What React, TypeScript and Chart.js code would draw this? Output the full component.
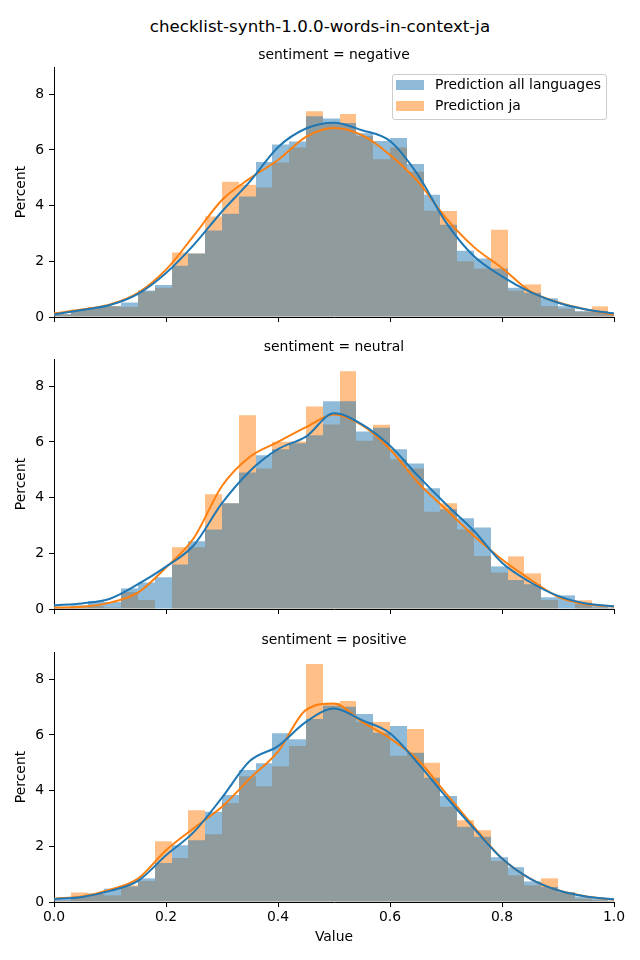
import React, { useEffect, useRef } from "react";
import { Chart, registerables } from "chart.js";

Chart.register(...registerables);

const TITLE = "checklist-synth-1.0.0-words-in-context-ja";
const PANEL_TITLES = ["sentiment = negative", "sentiment = neutral", "sentiment = positive"];
const SERIES_NAMES = ["Prediction all languages", "Prediction ja"];
const X_TITLE = "Value";
const Y_TITLE = "Percent";
const X_TICKS = [0, 0.2, 0.4, 0.6, 0.8, 1.0];
const Y_TICKS = [0, 2, 4, 6, 8];
const Y_MAX = 8.98;

const BIN_CENTERS = [
  0.015, 0.045, 0.075, 0.105, 0.135, 0.165, 0.195, 0.225, 0.255, 0.285,
  0.315, 0.345, 0.375, 0.405, 0.435, 0.465, 0.495, 0.525, 0.555, 0.585,
  0.615, 0.645, 0.675, 0.705, 0.735, 0.765, 0.795, 0.825, 0.855, 0.885,
  0.915, 0.945, 0.975, 1.005,
];

// negative
const NEG_ALL = [
  0.1, 0.25, 0.33, 0.39, 0.52, 0.95, 1.15, 1.84, 2.28, 3.11,
  3.71, 4.33, 5.57, 6.2, 6.3, 7.21, 7.13, 6.97, 6.6, 6.32,
  6.43, 5.5, 4.39, 3.31, 2.38, 2.1, 1.74, 1.05, 0.87, 0.67,
  0.39, 0.21, 0.21, 0.12,
];
const NEG_JA = [
  0.1, 0.27, 0.36, 0.39, 0.36, 0.92, 1.05, 2.32, 2.28, 3.61,
  4.86, 4.75, 4.65, 5.55, 6.09, 7.39, 6.97, 7.29, 6.5, 5.67,
  6.09, 5.22, 3.82, 3.81, 2.0, 1.74, 3.13, 0.95, 1.17, 0.39,
  0.3, 0.19, 0.38, 0.1,
];
// neutral
const NEU_ALL = [
  0.08, 0.13, 0.29, 0.25, 0.74, 0.95, 1.14, 1.6, 2.43, 2.86,
  3.8, 4.9, 5.52, 5.74, 5.95, 6.24, 7.46, 7.46, 6.38, 6.51,
  5.74, 5.23, 4.34, 3.58, 3.26, 2.93, 1.53, 1.04, 0.89, 0.42,
  0.49, 0.2, 0.1, 0.05,
];
const NEU_JA = [
  0.03, 0.05, 0.1, 0.05, 0.61, 0.32, 0.0, 2.22, 2.22, 4.12,
  3.8, 6.96, 5.05, 6.01, 6.02, 7.27, 6.63, 8.54, 6.04, 6.62,
  5.38, 5.05, 3.49, 3.8, 2.86, 1.9, 1.31, 1.89, 1.28, 0.32,
  0.0, 0.31, 0.05, 0.03,
];
// positive
const POS_ALL = [
  0.1, 0.18, 0.3, 0.48, 0.56, 0.85, 1.4, 2.04, 2.22, 3.24,
  3.84, 4.74, 4.98, 6.06, 5.85, 6.57, 7.05, 7.01, 6.75, 6.08,
  6.32, 5.36, 4.46, 3.81, 2.7, 2.34, 1.61, 1.25, 0.74, 0.54,
  0.36, 0.2, 0.12, 0.05,
];
const POS_JA = [
  0.05, 0.34, 0.3, 0.24, 0.6, 0.76, 2.18, 1.58, 3.3, 2.43,
  3.56, 4.52, 4.16, 4.88, 5.6, 8.55, 7.15, 7.22, 6.47, 6.47,
  5.25, 6.21, 5.0, 3.42, 2.94, 2.58, 1.47, 0.96, 0.6, 0.85,
  0.34, 0.12, 0.06, 0.03,
];

const KDE_X = [
  0, 0.05, 0.1, 0.15, 0.2, 0.25, 0.3, 0.35, 0.4, 0.45, 0.5,
  0.55, 0.6, 0.65, 0.7, 0.75, 0.8, 0.85, 0.9, 0.95, 1.0,
];
const NEG_ALL_KDE = [0.09, 0.25, 0.43, 0.83, 1.58, 2.6, 3.79, 4.87, 6.1, 6.77, 6.98, 6.71, 6.32, 5.1, 3.4, 2.18, 1.46, 0.9, 0.51, 0.27, 0.13];
const NEG_JA_KDE = [0.13, 0.27, 0.45, 0.87, 1.7, 2.93, 4.2, 4.98, 5.64, 6.47, 6.79, 6.53, 5.82, 4.86, 3.55, 2.51, 1.76, 0.93, 0.53, 0.27, 0.09];
const NEU_ALL_KDE = [0.13, 0.2, 0.37, 0.89, 1.52, 2.3, 3.8, 4.96, 5.74, 6.19, 7.03, 6.63, 5.86, 4.78, 3.76, 2.8, 1.66, 0.97, 0.47, 0.2, 0.1];
const NEU_JA_KDE = [0.05, 0.08, 0.23, 0.59, 1.49, 2.56, 4.42, 5.47, 6.0, 6.53, 6.99, 6.6, 5.74, 4.54, 3.58, 2.62, 1.78, 1.07, 0.44, 0.17, 0.08];
const POS_ALL_KDE = [0.1, 0.18, 0.4, 0.76, 1.68, 2.52, 3.75, 5.07, 5.6, 6.47, 6.95, 6.53, 6.06, 4.98, 3.78, 2.64, 1.56, 0.84, 0.42, 0.2, 0.1];
const POS_JA_KDE = [0.12, 0.2, 0.44, 0.84, 1.86, 2.66, 3.42, 4.44, 5.4, 6.9, 7.13, 6.47, 5.88, 5.1, 3.9, 2.7, 1.56, 0.84, 0.42, 0.2, 0.08];

const BLUE = "rgb(31,119,180)";
const ORANGE = "rgb(255,127,14)";
const BLUE_A = "rgba(31,119,180,0.5)";
const ORANGE_A = "rgba(255,127,14,0.5)";
const FONT = "'DejaVu Sans', sans-serif";
const FS = 13.9;

const PANELS = [
  { title: PANEL_TITLES[0], all: NEG_ALL, ja: NEG_JA, allKde: NEG_ALL_KDE, jaKde: NEG_JA_KDE, top: 60, height: 280, xh: 23, showX: false },
  { title: PANEL_TITLES[1], all: NEU_ALL, ja: NEU_JA, allKde: NEU_ALL_KDE, jaKde: NEU_JA_KDE, top: 352, height: 280, xh: 23, showX: false },
  { title: PANEL_TITLES[2], all: POS_ALL, ja: POS_JA, allKde: POS_ALL_KDE, jaKde: POS_JA_KDE, top: 645, height: 315, xh: 58, showX: true },
];
const PAD_TOP = 7;

// snap bar edges to whole pixels so adjacent bins meet without antialiasing seams
const snapBars = {
  id: "snapBars",
  beforeDatasetDraw(chart: any, args: any) {
    const meta = args.meta;
    if (meta.type !== "bar") return;
    meta.data.forEach((el: any) => {
      const l = Math.round(el.x - el.width / 2);
      const r = Math.round(el.x + el.width / 2);
      el.x = (l + r) / 2;
      el.width = r - l;
    });
  },
};

function Panel(props: any) {
  const { all, ja, allKde, jaKde, height, xh, showX, top } = props;
  const ref = useRef<HTMLCanvasElement>(null);
  useEffect(() => {
    const font = { family: FONT, size: FS };
    const chart = new Chart(ref.current as HTMLCanvasElement, {
      type: "bar",
      data: {
        datasets: [
          {
            type: "line",
            label: SERIES_NAMES[0] + " kde",
            data: KDE_X.map((x, i) => ({ x, y: allKde[i] })),
            borderColor: BLUE,
            borderWidth: 2,
            pointRadius: 0,
            fill: false,
            cubicInterpolationMode: "monotone",
            order: 0,
          },
          {
            type: "line",
            label: SERIES_NAMES[1] + " kde",
            data: KDE_X.map((x, i) => ({ x, y: jaKde[i] })),
            borderColor: ORANGE,
            borderWidth: 2,
            pointRadius: 0,
            fill: false,
            cubicInterpolationMode: "monotone",
            order: 0,
          },
          {
            type: "bar",
            label: SERIES_NAMES[0],
            data: BIN_CENTERS.map((x, i) => ({ x, y: all[i] })),
            backgroundColor: BLUE_A,
            borderWidth: 0,
            grouped: false,
            barPercentage: 1,
            categoryPercentage: 1,
            inflateAmount: 0,
            clip: 0,
            order: 1,
          },
          {
            type: "bar",
            label: SERIES_NAMES[1],
            data: BIN_CENTERS.map((x, i) => ({ x, y: ja[i] })),
            backgroundColor: ORANGE_A,
            borderWidth: 0,
            grouped: false,
            barPercentage: 1,
            categoryPercentage: 1,
            inflateAmount: 0,
            clip: 0,
            order: 1,
          },
        ],
      } as any,
      options: {
        responsive: false,
        animation: false,
        devicePixelRatio: 1,
        layout: { padding: { top: PAD_TOP, right: 26, left: 0, bottom: 0 } },
        plugins: { legend: { display: false }, tooltip: { enabled: false }, title: { display: false } },
        scales: {
          x: {
            type: "linear",
            min: 0,
            max: 1,
            offset: false,
            grid: { display: true, drawOnChartArea: false, drawTicks: true, tickLength: 5, color: "#000", lineWidth: 1, offset: false },
            border: { display: true, color: "#000", width: 1 },
            ticks: {
              display: showX,
              color: "#000",
              font,
              padding: 2,
              maxRotation: 0,
              autoSkip: false,
              callback: (v: any) => Number(v).toFixed(1),
            },
            afterBuildTicks: (s: any) => {
              s.ticks = X_TICKS.map((v) => ({ value: v }));
            },
            title: { display: showX, text: X_TITLE, color: "#000", font, padding: { top: 0, bottom: 14 } },
            afterFit: (s: any) => {
              s.height = xh;
              s.paddingLeft = 0;
              s.paddingRight = 0;
            },
          },
          y: {
            type: "linear",
            min: 0,
            max: Y_MAX,
            grid: { display: true, drawOnChartArea: false, drawTicks: true, tickLength: 5, color: "#000", lineWidth: 1 },
            border: { display: true, color: "#000", width: 1 },
            ticks: { color: "#000", font, padding: 5, autoSkip: false },
            afterBuildTicks: (s: any) => {
              s.ticks = Y_TICKS.map((v) => ({ value: v }));
            },
            title: { display: true, text: Y_TITLE, color: "#000", font, padding: { top: 12.7, bottom: 0 } },
            afterFit: (s: any) => {
              s.width = 54;
              s.paddingTop = 0;
              s.paddingBottom = 0;
            },
          },
        },
      } as any,
      plugins: [snapBars],
    });
    return () => chart.destroy();
  }, []);
  return (
    <canvas
      ref={ref}
      width={640}
      height={height}
      style={{ position: "absolute", left: 0, top, width: 640, height }}
    />
  );
}

export default function App() {
  const textBase: any = { position: "absolute", whiteSpace: "nowrap", fontFamily: FONT, color: "#000" };
  return (
    <div style={{ position: "absolute", left: 0, top: 0, width: 640, height: 960, background: "#fff", overflow: "hidden" }}>
      {PANELS.map((p, i) => (
        <Panel key={i} {...p} />
      ))}
      <div style={{ ...textBase, left: 0, width: 640, top: 19, textAlign: "center", fontSize: 16.67, lineHeight: "16.67px" }}>{TITLE}</div>
      {PANELS.map((p, i) => (
        <div
          key={"t" + i}
          style={{ ...textBase, left: 54, width: 560, top: p.top + PAD_TOP - 19, textAlign: "center", fontSize: FS, lineHeight: FS + "px" }}
        >
          {p.title}
        </div>
      ))}
      <div
        style={{
          position: "absolute",
          left: 392,
          top: 74,
          width: 215,
          height: 46,
          boxSizing: "border-box",
          border: "1px solid #cccccc",
          borderRadius: 3,
          background: "rgba(255,255,255,0.8)",
        }}
      />
      <div style={{ position: "absolute", left: 396, top: 80, width: 28, height: 10, background: BLUE_A }} />
      <div style={{ position: "absolute", left: 396, top: 101, width: 28, height: 10, background: ORANGE_A }} />
      <div style={{ ...textBase, left: 435, top: 78.2, fontSize: FS, lineHeight: FS + "px" }}>{SERIES_NAMES[0]}</div>
      <div style={{ ...textBase, left: 435, top: 99.2, fontSize: FS, lineHeight: FS + "px" }}>{SERIES_NAMES[1]}</div>
    </div>
  );
}
